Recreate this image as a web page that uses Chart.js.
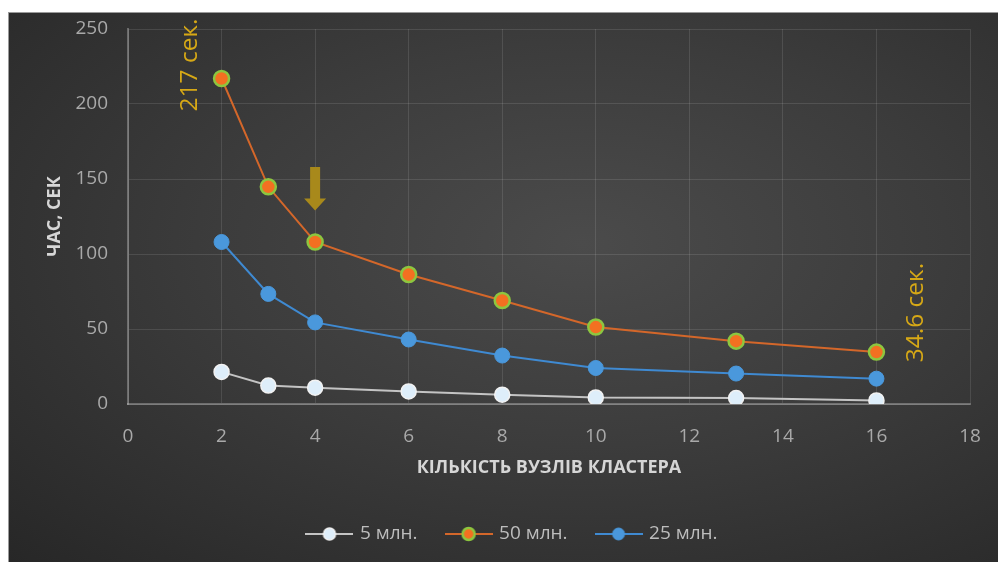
<!DOCTYPE html>
<html>
<head>
<meta charset="utf-8">
<script src="https://cdn.jsdelivr.net/npm/chart.js@4.4.1/dist/chart.umd.min.js"></script>
<style>
  body { margin: 0; background: #fff; }
  #panel {
    position: absolute; left: 8px; top: 12px; width: 990px; height: 550px;
    background: radial-gradient(ellipse at 58% 42%, #4b4b4b 0%, #3c3c3c 45%, #272727 100%);
    border-top: 1px solid #9a9a9a; border-left: 1px solid #9a9a9a;
    box-sizing: border-box;
    overflow: hidden;
  }
  #chart { position: absolute; left: -1px; top: -1px; }
</style>
</head>
<body>
<div id="panel"><canvas id="chart" width="990" height="550"></canvas></div>
<script>
// nodes in the cluster
const nodes = [2, 3, 4, 6, 8, 10, 13, 16];
// time, sec
const time5 = [21.4, 12.3, 10.9, 8.4, 6.2, 4.4, 4.0, 2.4];
const time50 = [217, 144.8, 108, 86.3, 69, 51.3, 41.9, 34.6];
const time25 = [108, 73.4, 54.4, 43, 32.3, 24, 20.3, 16.9];
const seriesNames = ["5 млн.", "50 млн.", "25 млн."];

const xTicks = { min: 0, max: 18, step: 2 };
const yTicks = { min: 0, max: 250, step: 50 };

// callouts (in data units)
const notes = [
  { text: "217 сек.", x: 1.32, y: 226 },
  { text: "34.6 сек.", x: 16.85, y: 61 }
];
const arrow = { x: 4, top: 158, tip: 129 };

const tickColor = "#a9a9a9";
const titleColor = "#d6d6d6";
const gridColor = "rgba(255,255,255,0.11)";
const axisColor = "rgba(255,255,255,0.28)";
const gold = "#d6a816";

const styles = [
  { line: "#c4c4c4", fill: "#deeefa", border: "#f2f2f2", bw: 1.5 },
  { line: "#d4672a", fill: "#f37021", border: "#8dc63f", bw: 2.5 },
  { line: "#3f8ad2", fill: "#4a98dc", border: "#4a98dc", bw: 1 }
];

function pts(ys) {
  return nodes.map((n, i) => ({ x: n, y: ys[i] }));
}

function legendIcon(s) {
  const c = document.createElement("canvas");
  c.width = 48; c.height = 16;
  const g = c.getContext("2d");
  g.strokeStyle = s.line; g.lineWidth = 2;
  g.beginPath(); g.moveTo(0, 8); g.lineTo(48, 8); g.stroke();
  g.beginPath(); g.arc(24, 8, 6, 0, Math.PI * 2);
  g.fillStyle = s.fill; g.fill();
  g.lineWidth = s.bw; g.strokeStyle = s.border; g.stroke();
  return c;
}
const icons = styles.map(legendIcon);

const callouts = {
  id: "callouts",
  afterDatasetsDraw(chart) {
    const { ctx, scales: { x, y } } = chart;
    ctx.save();
    ctx.fillStyle = gold;
    ctx.font = "24.5px 'Open Sans'";
    ctx.textAlign = "center";
    ctx.textBaseline = "middle";
    notes.forEach(n => {
      ctx.save();
      ctx.translate(x.getPixelForValue(n.x), y.getPixelForValue(n.y));
      ctx.rotate(-Math.PI / 2);
      ctx.fillText(n.text, 0, 0);
      ctx.restore();
    });
    // arrow pointing down at 4 nodes
    const ax = x.getPixelForValue(arrow.x);
    const top = y.getPixelForValue(arrow.top);
    const tip = y.getPixelForValue(arrow.tip);
    const headH = 12;
    ctx.fillStyle = "#a8891b";
    ctx.beginPath();
    ctx.moveTo(ax - 5, top);
    ctx.lineTo(ax + 5, top);
    ctx.lineTo(ax + 5, tip - headH);
    ctx.lineTo(ax + 11, tip - headH);
    ctx.lineTo(ax, tip);
    ctx.lineTo(ax - 11, tip - headH);
    ctx.lineTo(ax - 5, tip - headH);
    ctx.closePath();
    ctx.fill();
    ctx.restore();
  }
};

const series = [time5, time50, time25];
new Chart(document.getElementById("chart"), {
  type: "line",
  data: {
    datasets: series.map((ys, i) => ({
      label: seriesNames[i],
      data: pts(ys),
      borderColor: styles[i].line,
      borderWidth: 2,
      backgroundColor: styles[i].fill,
      pointBackgroundColor: styles[i].fill,
      pointBorderColor: styles[i].border,
      pointBorderWidth: styles[i].bw,
      pointRadius: 7.5,
      tension: 0
    }))
  },
  options: {
    responsive: false,
    animation: false,
    layout: { autoPadding: false, padding: { left: 48, top: 17, right: 28, bottom: 8.5 } },
    scales: {
      x: {
        type: "linear",
        min: xTicks.min, max: xTicks.max,
        ticks: { stepSize: xTicks.step, color: tickColor, font: { family: "Open Sans", size: 19 }, padding: 0 },
        grid: { color: gridColor, drawTicks: true, tickLength: 21, tickColor: "transparent" },
        border: { color: axisColor, width: 2 },
        title: { display: true, text: "КІЛЬКІСТЬ ВУЗЛІВ КЛАСТЕРА", color: titleColor,
                 font: { family: "Open Sans", size: 18, weight: "bold" }, padding: { top: 0, bottom: 15.7 } },
        afterFit(s) { s.height = 90.5; }
      },
      y: {
        min: yTicks.min, max: yTicks.max,
        ticks: { stepSize: yTicks.step, color: tickColor, font: { family: "Open Sans", size: 19 }, padding: 0 },
        grid: { color: gridColor, drawTicks: true, tickLength: 20, tickColor: "transparent" },
        border: { color: axisColor, width: 2 },
        title: { display: true, text: "ЧАС, СЕК", color: titleColor,
                 font: { family: "Open Sans", size: 18, weight: "bold" }, padding: { top: -12.3, bottom: 0 } },
        afterFit(s) { s.width = 72; }
      }
    },
    plugins: {
      legend: {
        position: "bottom",
        labels: {
          usePointStyle: true,
          pointStyleWidth: 42,
          color: "#bdbdbd",
          font: { family: "Open Sans", size: 19 },
          padding: 30,
          generateLabels(chart) {
            const items = Chart.defaults.plugins.legend.labels.generateLabels(chart);
            items.forEach((it, i) => { it.pointStyle = icons[i]; });
            return items;
          }
        }
      },
      tooltip: { enabled: false }
    }
  },
  plugins: [callouts]
});
</script>
</body>
</html>
